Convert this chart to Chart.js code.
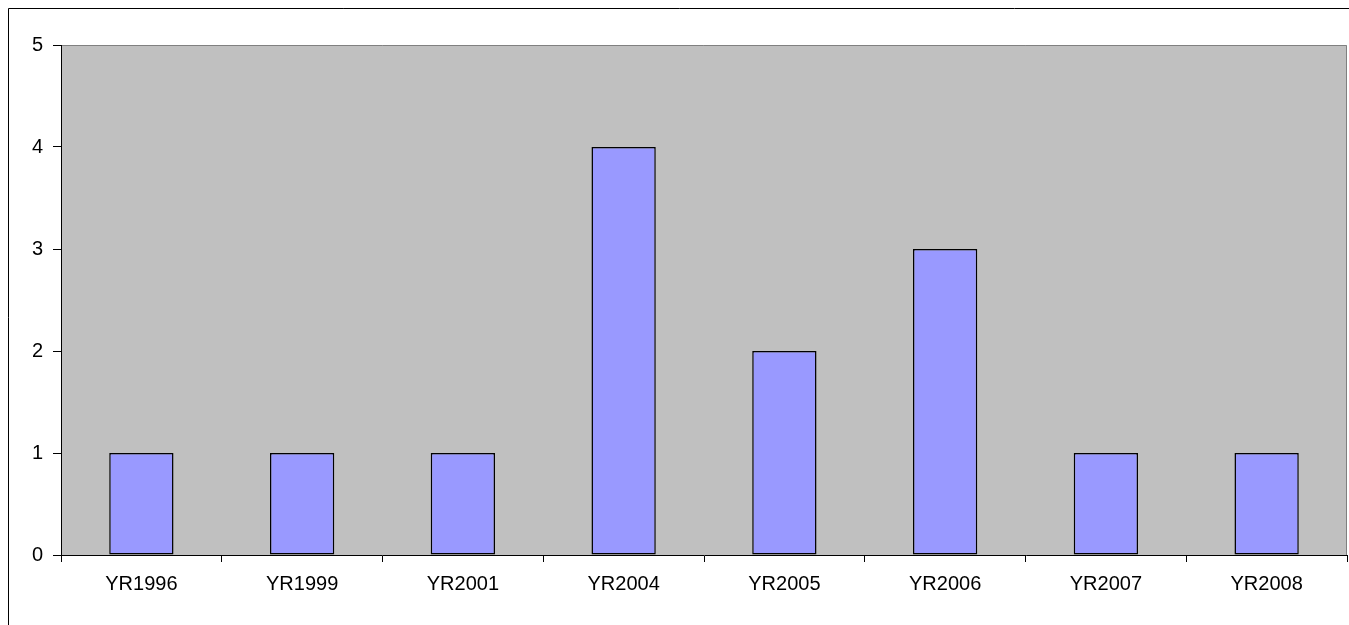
<!DOCTYPE html>
<html>
<head>
<meta charset="utf-8">
<style>
  html, body { margin: 0; padding: 0; background: #ffffff; }
  #wrap { position: relative; width: 1349px; height: 625px; }
  canvas { display: block; }
</style>
<script src="https://cdn.jsdelivr.net/npm/chart.js@4/dist/chart.umd.min.js"></script>
</head>
<body>
<div id="wrap"><canvas id="chart" width="1349" height="625"></canvas></div>
<script>
// Counts per year
const categories = ["YR1996", "YR1999", "YR2001", "YR2004", "YR2005", "YR2006", "YR2007", "YR2008"];
const counts = [1, 1, 1, 4, 2, 3, 1, 1];
const yTicks = [0, 1, 2, 3, 4, 5];

const FONT = "'Liberation Sans', Arial, sans-serif";

// Outer frame and grey plot background
const framePlugin = {
  id: "frame",
  beforeDraw(chart) {
    const ctx = chart.ctx;
    const a = chart.chartArea;
    ctx.save();
    ctx.fillStyle = "#ffffff";
    ctx.fillRect(0, 0, chart.width, chart.height);
    ctx.strokeStyle = "#000000";
    ctx.lineWidth = 1;
    ctx.beginPath();
    ctx.moveTo(8.5, chart.height + 2);
    ctx.lineTo(8.5, 8.5);
    ctx.lineTo(chart.width + 2, 8.5);
    ctx.stroke();
    ctx.fillStyle = "#c0c0c0";
    ctx.fillRect(a.left, a.top, a.right - a.left, a.bottom - a.top);
    ctx.strokeStyle = "#808080";
    ctx.beginPath();
    ctx.moveTo(a.left, a.top + 0.5);
    ctx.lineTo(a.right - 0.5, a.top + 0.5);
    ctx.lineTo(a.right - 0.5, a.bottom);
    ctx.stroke();
    ctx.restore();
  }
};

new Chart(document.getElementById("chart"), {
  type: "bar",
  data: {
    labels: categories,
    datasets: [{
      data: counts,
      backgroundColor: "#9999ff",
      borderColor: "#000000",
      borderWidth: 1.5,
      borderSkipped: false,
      barPercentage: 0.4,
      categoryPercentage: 1.0
    }]
  },
  options: {
    responsive: false,
    animation: false,
    devicePixelRatio: 1,
    layout: { padding: { left: 0, top: 45, right: 2, bottom: 0 } },
    plugins: { legend: { display: false }, tooltip: { enabled: false } },
    scales: {
      x: {
        grid: { display: true, drawOnChartArea: false, offset: true, color: "#000000", tickLength: 7 },
        border: { color: "#000000", width: 1 },
        ticks: { color: "#000000", font: { family: FONT, size: 20 }, padding: 10, maxRotation: 0, autoSkip: false },
        afterFit(scale) { scale.height = 70; }
      },
      y: {
        min: 0,
        max: 5,
        afterBuildTicks(scale) { scale.ticks = yTicks.map(v => ({ value: v })); },
        grid: { display: true, drawOnChartArea: false, color: "#000000", tickLength: 8 },
        border: { color: "#000000", width: 1 },
        ticks: { color: "#000000", font: { family: FONT, size: 20 }, padding: 10 },
        afterFit(scale) { scale.width = 61; }
      }
    }
  },
  plugins: [framePlugin]
});
</script>
</body>
</html>
